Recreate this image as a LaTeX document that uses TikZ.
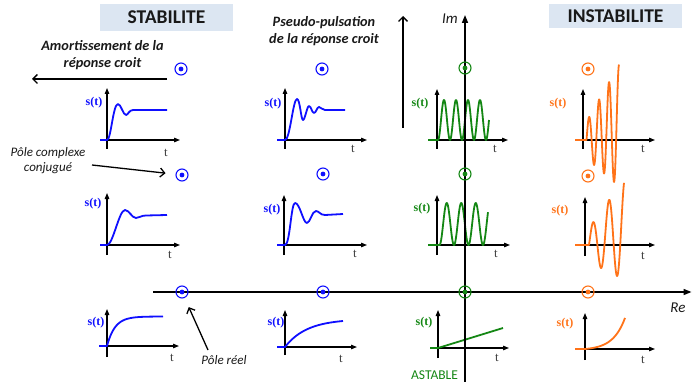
\documentclass[tikz,border=0pt]{standalone}
\usepackage{fontspec}
\setmainfont{Carlito}
\newfontfamily\tms{Liberation Serif}
\usetikzlibrary{arrows.meta}
\definecolor{pblue}{RGB}{15,15,255}
\definecolor{pgreen}{RGB}{20,135,20}
\definecolor{porange}{RGB}{255,115,25}
\definecolor{tbox}{RGB}{220,230,242}
\newcommand\axpair[5]{\draw[sax] (#1,#5) -- (#1,#3); \draw[sax] (#1,#2) -- (#4,#2);}
\begin{document}
\begin{tikzpicture}[x=1pt,y=-1pt,
  sax/.style={line width=1.2pt,-{Triangle[length=6pt,width=4.5pt]}},
  bigax/.style={line width=1.5pt,-{Triangle[length=8pt,width=6pt]}},
  barb/.style={line width=1.3pt,-{Straight Barb[length=4.5pt,width=9pt]}},
  resp/.style={line width=1.8pt,line join=round},
  slab/.style={font=\fontsize{12}{13}\selectfont\tms\bfseries,inner sep=0pt},
  tlab/.style={font=\fontsize{13}{14}\selectfont\tms,text=black!75,inner sep=0pt},
  titlebox/.style={fill=tbox,font=\fontsize{19.5}{22}\selectfont\bfseries,text=black!90,inner sep=0pt},
  note/.style={align=center,inner sep=0pt,text=black!90},
  pole/.style={circle,draw=#1,line width=1.1pt,minimum size=12pt,inner sep=0pt,
    path picture={\fill[#1] (path picture bounding box.center) circle[radius=2.4pt];}}]
\useasboundingbox (0,0) rectangle (692,382);

% titles
\node[titlebox,minimum width=133pt,minimum height=27pt] (stab) at (166.5,17.5) {STABILITE};
\node[titlebox,minimum width=133pt,minimum height=24pt] (instab) at (615.5,16) {INSTABILITE};

% texts
\node[note,font=\fontsize{14.3}{17}\selectfont\bfseries\itshape] (amort) at (102.5,55.5) {Amortissement de la\\réponse croit};
\node[note,font=\fontsize{14.3}{17}\selectfont\bfseries\itshape] (pseudo) at (324,31.5) {Pseudo-pulsation\\de la réponse croit};
\node[note,font=\fontsize{13}{15.5}\selectfont\itshape] (cpx) at (48,160.5) {Pôle complexe\\conjugué};
\node[note,font=\fontsize{13}{14}\selectfont\itshape] (reel) at (224,360) {Pôle réel};
\node[note,font=\fontsize{13.5}{14}\selectfont,text=pgreen] (astable) at (434.5,375) {ASTABLE};
\node[note,font=\fontsize{15}{16}\selectfont\itshape] (im) at (450,19) {Im};
\node[note,font=\fontsize{15}{16}\selectfont\itshape] (re) at (678,308) {Re};

% arrows
\coordinate (am1) at (167,79); \coordinate (am2) at (32,79);
\draw[barb] (am1) -- (am2);
\coordinate (ps1) at (403,128); \coordinate (ps2) at (403,16);
\draw[barb] (ps1) -- (ps2);

% small plot axes
\axpair{107}{140}{88}{180}{149}
\axpair{107}{245}{193}{180}{255}
\axpair{107}{346}{309}{179}{357}
\axpair{285}{140}{88}{367}{149}
\axpair{284}{245}{195}{367}{255}
\axpair{285}{347}{310}{357}{355}
\axpair{437}{140}{89}{508}{149}
\axpair{437}{245}{195}{510}{255}
\axpair{438}{348}{310}{509}{358}
\axpair{583}{140}{89}{655}{149}
\axpair{585}{245}{197}{655}{256}
\axpair{585}{349}{313}{655}{360}

% blue responses
\draw[resp,pblue] (100,140) -- (107,140) .. controls (111,140) and (113,104) .. (118,104)
  .. controls (121,104) and (123,115) .. (126,115) .. controls (128,115) and (129,110) .. (133,110) -- (167,110);
\draw[resp,pblue] (277,140) -- (285,140) .. controls (290,140) and (293,99) .. (297,99)
  .. controls (300,99) and (301,120) .. (303,120) .. controls (305,120) and (307,106) .. (309,106)
  .. controls (311,106) and (312,113) .. (314,113) .. controls (316,113) and (317,107) .. (319,107)
  .. controls (321,107) and (322,110) .. (325,110) -- (345,110);
\draw[resp,pblue] (100,245) -- (107,245) .. controls (113,245) and (119,210) .. (125,210)
  .. controls (129,210) and (132,218) .. (136,218) .. controls (139,218) and (141,215.5) .. (146,215.5) -- (167,215);
\draw[resp,pblue] (277,245) -- (285,245) .. controls (290,245) and (291,203) .. (295,203)
  .. controls (300,203) and (303,223) .. (307,223) .. controls (310,223) and (312,211) .. (316,211)
  .. controls (319,211) and (320,215) .. (325,215) -- (343,214);
\draw[resp,pblue] (99,346) -- (107,346) -- plot[domain=107:163,samples=60] (\x,{346-29.5*(1-exp(-(\x-107)/8))});
\draw[resp,pblue] (277,347) -- (285,347) -- plot[domain=285:343,samples=60] (\x,{347-28*(1-exp(-(\x-285)/22))});

% green responses
\draw[resp,pgreen] (428,140) -- (438,140) -- plot[domain=438:489,samples=160] (\x,{140-20*(1-cos(30*(\x-438)))});
\draw[resp,pgreen] (428,245) -- (439.5,245) -- plot[domain=439.5:488,samples=160] (\x,{245-21*(1-cos(24.83*(\x-439.5)))});
\draw[resp,pgreen] (430,348) -- (438,348) -- (503,328);

% orange responses
\draw[resp,porange] (575,140) -- (586.5,140) -- plot[domain=586.5:619,samples=160]
  (\x,{140-(0.45*(\x-586.5)+(14+1.3*(\x-583))*sin(36*(\x-586.5)))});
\draw[resp,porange] (575,245) -- (589,245) -- plot[domain=589:624,samples=160]
  (\x,{245-(0.45*(\x-589)+(17+0.95*(\x-589))*sin(22.5*(\x-589)))});
\draw[resp,porange] (575,349) -- (585,349) -- plot[domain=585:625,samples=60] (\x,{349-1.15*(exp((\x-585)/12)-1)});

% s(t) labels
\node[slab,text=pblue] (s11) at (94,103) {s(t)};
\node[slab,text=pblue] (s21) at (93,204) {s(t)};
\node[slab,text=pblue] (s31) at (96,323) {s(t)};
\node[slab,text=pblue] (s12) at (273,104) {s(t)};
\node[slab,text=pblue] (s22) at (272,210) {s(t)};
\node[slab,text=pblue] (s32) at (276,323) {s(t)};
\node[slab,text=pgreen] (s13) at (420,104) {s(t)};
\node[slab,text=pgreen] (s23) at (422,209) {s(t)};
\node[slab,text=pgreen] (s33) at (424,323) {s(t)};
\node[slab,text=porange] (s14) at (558,104) {s(t)};
\node[slab,text=porange] (s24) at (560,211) {s(t)};
\node[slab,text=porange] (s34) at (565,324) {s(t)};

% t labels
\node[tlab] (t11) at (166,153) {t};
\node[tlab] (t21) at (170,255) {t};
\node[tlab] (t31) at (172,358) {t};
\node[tlab] (t12) at (353,149) {t};
\node[tlab] (t22) at (355,254) {t};
\node[tlab] (t32) at (341,359) {t};
\node[tlab] (t13) at (495,149) {t};
\node[tlab] (t23) at (496,254) {t};
\node[tlab] (t33) at (497,358) {t};
\node[tlab] (t14) at (643,149) {t};
\node[tlab] (t24) at (643,256) {t};
\node[tlab] (t34) at (643,360) {t};

% main axes
\coordinate (imlo) at (465,382); \coordinate (imhi) at (465,15);
\draw[bigax] (imlo) -- (imhi);
\coordinate (relo) at (153,292); \coordinate (rehi) at (691.5,292);
\draw[bigax] (relo) -- (rehi);

% poles
\node[pole=pblue] (p11) at (181,69) {};
\node[pole=pblue] (p12) at (322,69) {};
\node[pole=pgreen] (p13) at (465,68) {};
\node[pole=porange] (p14) at (588,69) {};
\node[pole=pblue] (p21) at (182,175) {};
\node[pole=pblue] (p22) at (323,174) {};
\node[pole=pgreen] (p23) at (465,174) {};
\node[pole=porange] (p24) at (588,176) {};
\node[pole=pblue] (p31) at (182,292) {};
\node[pole=pblue] (p32) at (323,292) {};
\node[pole=pgreen] (p33) at (465,292) {};
\node[pole=porange] (p34) at (588,292) {};

% pointer arrows
\coordinate (cpxs) at (92,165);
\draw[barb,shorten >=10pt] (cpxs) -- (p21);
\coordinate (reels) at (208,350);
\draw[barb,shorten >=10pt] (reels) -- (p31);
\end{tikzpicture}
\end{document}
